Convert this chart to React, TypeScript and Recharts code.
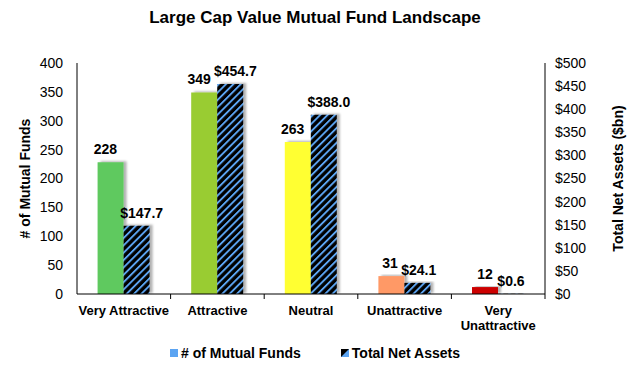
import React from 'react';
import { BarChart, Bar, XAxis, YAxis, Cell, LabelList, Legend } from 'recharts';

const categories = ['Very Attractive', 'Attractive', 'Neutral', 'Unattractive', 'Very\nUnattractive'];
const fundCounts = [228, 349, 263, 31, 12];
const totalAssets = [147.7, 454.7, 388.0, 24.1, 0.6];
const fundTicks = [0, 50, 100, 150, 200, 250, 300, 350, 400];
const assetTicks = [0, 50, 100, 150, 200, 250, 300, 350, 400, 450, 500];
const ratingColors = ['#5EC95E', '#99CC33', '#FFFF33', '#FF9966', '#CC0000'];
const seriesNames = ['# of Mutual Funds', 'Total Net Assets'];

const data = categories.map((c, i) => ({ category: c, funds: fundCounts[i], assets: totalAssets[i] }));

const FONT = '"Liberation Sans", Arial, Helvetica, sans-serif';
const BLUE = '#5BA4F2';

const fmtAsset = (v: number) => '$' + v.toFixed(1);
const approxWidth = (s: string) => s.length * 7.6;

function pairShift(i: number, barWidth: number) {
  const w1 = approxWidth(String(fundCounts[i]));
  const w2 = approxWidth(fmtAsset(totalAssets[i]));
  const overlap = w1 / 2 + w2 / 2 + 2 - barWidth;
  return overlap > 0 ? overlap / 2 : 0;
}

const FundLabel = (props: any) => {
  const { x, y, width, value, index } = props;
  const s = pairShift(index, width);
  return (
    <text x={x + width / 2 - s} y={y - 8} textAnchor="middle" fontSize={14} fontWeight="bold" fill="#000" fontFamily={FONT}>
      {value}
    </text>
  );
};

const AssetLabel = (props: any) => {
  const { x, y, width, value, index } = props;
  const s = pairShift(index, width);
  return (
    <text x={x + width / 2 + s} y={y - 8} textAnchor="middle" fontSize={14} fontWeight="bold" fill="#000" fontFamily={FONT}>
      {fmtAsset(Number(value))}
    </text>
  );
};

const XTick = (props: any) => {
  const { x, y, payload } = props;
  const lines = String(payload.value).split('\n');
  const off = payload.offset ?? 46.8;
  const axisY = y - 8;
  return (
    <g>
      <line x1={x + off} x2={x + off} y1={axisY} y2={axisY + 5} stroke="#000" strokeWidth={1} />
      {lines.map((l, k) => (
        <text key={k} x={x} y={y + 13 + k * 15} textAnchor="middle" fontSize={13} fontWeight="bold" fill="#000" fontFamily={FONT}>
          {l}
        </text>
      ))}
    </g>
  );
};

const LegendContent = () => (
  <div style={{ height: 30, display: 'flex', alignItems: 'center', justifyContent: 'center', fontFamily: FONT, fontWeight: 'bold', fontSize: 14, color: '#000' }}>
    <svg width={8} height={8} style={{ marginRight: 3 }}>
      <rect x={0} y={0} width={8} height={8} fill={BLUE} />
    </svg>
    <span>{seriesNames[0]}</span>
    <svg width={8} height={8} style={{ marginLeft: 40, marginRight: 3 }}>
      <rect x={0} y={0} width={8} height={8} fill={BLUE} />
      <polygon points="0,0 8,0 0,8" fill="#000" />
    </svg>
    <span>{seriesNames[1]}</span>
  </div>
);

const leftLabel = (p: any) => {
  const vb = p.viewBox;
  const cx = vb.x + 25;
  const cy = vb.y + vb.height / 2;
  return (
    <text x={cx} y={cy} transform={`rotate(-90, ${cx}, ${cy})`} textAnchor="middle" dominantBaseline="central" fontSize={14} fontWeight="bold" fill="#000" fontFamily={FONT}>
      # of Mutual Funds
    </text>
  );
};

const rightLabel = (p: any) => {
  const vb = p.viewBox;
  const cx = vb.x + 73;
  const cy = vb.y + vb.height / 2;
  return (
    <text x={cx} y={cy} transform={`rotate(-90, ${cx}, ${cy})`} textAnchor="middle" dominantBaseline="central" fontSize={14} fontWeight="bold" fill="#000" fontFamily={FONT}>
      Total Net Assets ($bn)
    </text>
  );
};

export default function App() {
  return (
    <div style={{ position: 'absolute', left: 0, top: 0, width: 630, height: 368, background: '#fff' }}>
      <div style={{ position: 'absolute', left: 0, top: 8, width: 630, textAlign: 'center', fontFamily: FONT, fontWeight: 'bold', fontSize: 17, lineHeight: '20px', color: '#000' }}>
        Large Cap Value Mutual Fund Landscape
      </div>
      <BarChart width={630} height={368} data={data} margin={{ top: 63, right: 0, bottom: 0, left: 0 }} barCategoryGap="22%" barGap={0}>
        <defs>
          <pattern id="hatch" patternUnits="userSpaceOnUse" width={5.2} height={5.2} patternTransform="rotate(45)">
            <rect x={0} y={0} width={5.2} height={5.2} fill="#000" />
            <rect x={0} y={0} width={1.9} height={5.2} fill={BLUE} />
          </pattern>
          <filter id="barShadow" x="-30%" y="-10%" width="160%" height="120%">
            <feDropShadow dx={3} dy={-1} stdDeviation={1.2} floodColor="#000" floodOpacity={0.3} />
          </filter>
        </defs>
        <XAxis dataKey="category" xAxisId={0} height={44} axisLine={{ stroke: '#000' }} tickLine={false} interval={0} tick={<XTick />} />
        <YAxis yAxisId="left" orientation="left" width={77} domain={[0, 400]} ticks={fundTicks} interval={0} tickLine={false} tickMargin={8} axisLine={{ stroke: '#000' }} tick={{ fontSize: 14, fill: '#000', fontFamily: FONT }} label={leftLabel} />
        <YAxis yAxisId="right" orientation="right" width={85} domain={[0, 500]} ticks={assetTicks} interval={0} tickLine={false} tickMargin={4} axisLine={{ stroke: '#000' }} tickFormatter={(v: number) => '$' + v} tick={{ fontSize: 14, fill: '#000', fontFamily: FONT }} label={rightLabel} />
        <Legend verticalAlign="bottom" height={30} content={<LegendContent />} />
        <Bar yAxisId="left" dataKey="funds" name={seriesNames[0]} isAnimationActive={false} filter="url(#barShadow)" fill={BLUE}>
          {data.map((d, i) => (
            <Cell key={i} fill={ratingColors[i]} />
          ))}
          <LabelList dataKey="funds" content={<FundLabel />} />
        </Bar>
        <Bar yAxisId="right" dataKey="assets" name={seriesNames[1]} isAnimationActive={false} filter="url(#barShadow)" fill="url(#hatch)">
          <LabelList dataKey="assets" content={<AssetLabel />} />
        </Bar>
      </BarChart>
    </div>
  );
}
